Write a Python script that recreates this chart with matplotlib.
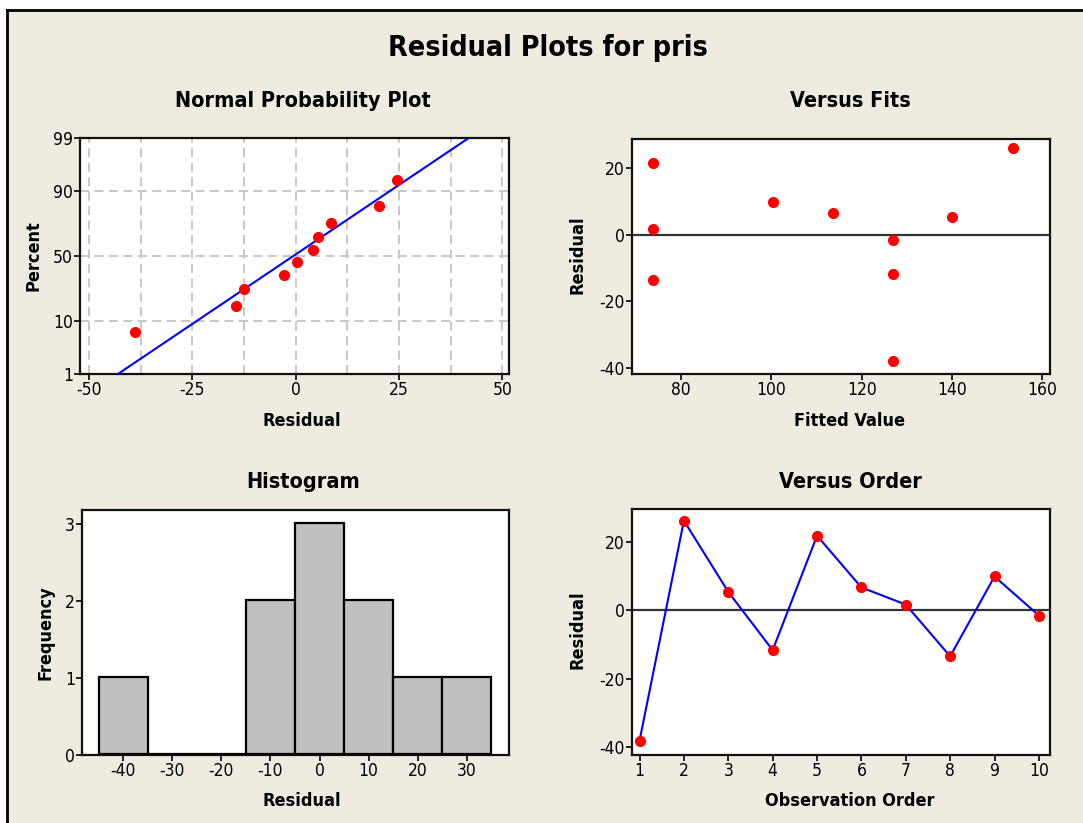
import numpy as np
import matplotlib
matplotlib.use("Agg")
import matplotlib.pyplot as plt
from matplotlib.patches import Rectangle
from matplotlib.lines import Line2D
from matplotlib.font_manager import FontProperties
from statistics import NormalDist

# residuals in observation order (read from "Versus Order")
order = np.arange(1, 11)
resid = [-38.1, 26.1, 5.3, -11.7, 21.7, 6.6, 1.6, -13.5, 9.8, -1.6]
# fitted values per observation (read from "Versus Fits")
fits = [126.9, 153.4, 140.1, 126.9, 73.7, 113.6, 73.7, 73.7, 100.3, 126.9]

# normal probability plot: sorted residuals and plotting percentiles
npp_resid = [-38.8, -14.4, -12.6, -2.9, 0.2, 4.1, 5.5, 8.5, 20.1, 24.4]
npp_pct = [6.7, 16.3, 26.0, 35.6, 45.2, 54.8, 64.4, 74.0, 83.7, 93.3]
pct_ticks = [1, 10, 50, 90, 99]

# histogram bins (centres) and counts
bin_mid = [-40, -30, -20, -10, 0, 10, 20, 30]
counts = [1, 0, 0, 2, 3, 2, 1, 1]

plt.rcParams["axes.unicode_minus"] = False

W, H = 1083, 823
BG = "#EFEBE1"


def fp(size, bold=False):
    return FontProperties(family="DejaVu Sans", stretch="condensed",
                          weight="bold" if bold else "normal", size=size)


fig = plt.figure(figsize=(W / 100, H / 100), dpi=100)
fig.patch.set_facecolor(BG)
# white strips above and left of the panel, black frame line on those sides
fig.add_artist(Rectangle((0, 1 - 10 / H), 1, 10 / H, transform=fig.transFigure,
                         facecolor="white", edgecolor="none", zorder=-5))
fig.add_artist(Rectangle((0, 0), 7 / W, 1, transform=fig.transFigure,
                         facecolor="white", edgecolor="none", zorder=-5))
fig.add_artist(Line2D([7 / W, 7 / W], [0, 1 - 10 / H], transform=fig.transFigure,
                      color="black", lw=2))
fig.add_artist(Line2D([7 / W, 1], [1 - 10 / H, 1 - 10 / H], transform=fig.transFigure,
                      color="black", lw=2))


def axes_px(x0, y0, x1, y1):
    return fig.add_axes([x0 / W, 1 - y1 / H, (x1 - x0) / W, (y1 - y0) / H])


def text_px(x, y, s, size, rotation=0):
    fig.text(x / W, 1 - y / H, s, fontproperties=fp(size, True),
             ha="center", va="center", rotation=rotation)


def style(ax):
    ax.set_facecolor("white")
    for sp in ax.spines.values():
        sp.set_linewidth(1.6)
        sp.set_color("#111111")
    ax.tick_params(direction="out", length=4, width=1.2, pad=1,
                   top=False, right=False)
    for lab in ax.get_xticklabels() + ax.get_yticklabels():
        lab.set_fontproperties(fp(12.5))


nd = NormalDist()

# --- Normal probability plot
ax1 = axes_px(80, 138, 509, 374)
z = [nd.inv_cdf(p / 100) for p in npp_pct]
mu = np.mean(npp_resid)
sd = np.std(npp_resid, ddof=1)
zl = np.array([nd.inv_cdf(0.01), nd.inv_cdf(0.99)])
ax1.plot(mu + sd * zl, zl, color="#0000FF", lw=1.5, zorder=3)
ax1.plot(npp_resid, z, "o", color="#FF0000", ms=7, zorder=4)
ax1.set_xlim(-52.2, 51.6)
ax1.set_ylim(zl[0], zl[1])
ax1.set_xticks([-50, -25, 0, 25, 50])
ax1.set_xticks([-37.5, -12.5, 12.5, 37.5], minor=True)
ax1.set_yticks([nd.inv_cdf(p / 100) for p in pct_ticks])
ax1.set_yticklabels([str(p) for p in pct_ticks])
ax1.grid(True, which="both", color="#C4C4C4", lw=1.3, ls=(0, (5, 3)))
ax1.tick_params(which="minor", length=0)
style(ax1)

# --- Versus fits
ax2 = axes_px(632, 139, 1050, 374)
ax2.axhline(0, color="#333333", lw=1.6, zorder=2)
ax2.plot(fits, resid, "o", color="#FF0000", ms=7, zorder=4)
ax2.set_xlim(69.1, 161.7)
ax2.set_ylim(-41.9, 28.8)
ax2.set_xticks([80, 100, 120, 140, 160])
ax2.set_yticks([-40, -20, 0, 20])
style(ax2)

# --- Histogram
ax3 = axes_px(82, 510, 509, 755)
ax3.bar(bin_mid, counts, width=10, bottom=0.015, facecolor="#C0C0C0",
        edgecolor="black", linewidth=1.6, zorder=3)
ax3.set_xlim(-48.4, 38.6)
ax3.set_ylim(0, 3.18)
ax3.set_xticks(bin_mid)
ax3.set_yticks([0, 1, 2, 3])
style(ax3)

# --- Versus order
ax4 = axes_px(632, 509, 1050, 755)
ax4.axhline(0, color="#333333", lw=1.6, zorder=2)
ax4.plot(order, resid, "-", color="#0000FF", lw=1.5, zorder=3)
ax4.plot(order, resid, "o", color="#FF0000", ms=7, zorder=4)
ax4.set_xlim(0.83, 10.25)
ax4.set_ylim(-42.3, 29.5)
ax4.set_xticks(order)
ax4.set_yticks([-40, -20, 0, 20])
style(ax4)

# titles and axis labels
text_px(548, 48, "Residual Plots for pris", 20.5)
text_px(303, 101, "Normal Probability Plot", 15.5)
text_px(850, 101, "Versus Fits", 15.5)
text_px(303, 482, "Histogram", 15.5)
text_px(850, 482, "Versus Order", 15.5)
text_px(302, 421, "Residual", 13)
text_px(850, 421, "Fitted Value", 13)
text_px(302, 801, "Residual", 13)
text_px(850, 801, "Observation Order", 13)
text_px(33, 256, "Percent", 13, rotation=90)
text_px(577, 255, "Residual", 13, rotation=90)
text_px(45, 633, "Frequency", 13, rotation=90)
text_px(577, 630, "Residual", 13, rotation=90)

fig.savefig("out.png", dpi=100, facecolor=fig.get_facecolor())
